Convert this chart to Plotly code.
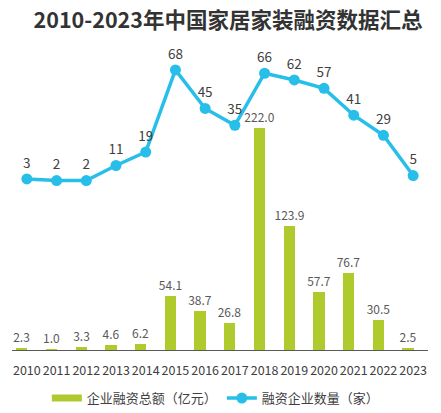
import plotly.graph_objects as go

years = ["2010", "2011", "2012", "2013", "2014", "2015", "2016", "2017",
         "2018", "2019", "2020", "2021", "2022", "2023"]
amount = [2.3, 1.0, 3.3, 4.6, 6.2, 54.1, 38.7, 26.8, 222.0, 123.9, 57.7, 76.7, 30.5, 2.5]
count = [3, 2, 2, 11, 19, 68, 45, 35, 66, 62, 57, 41, 29, 5]

title_text = "2010-2023年中国家居家装融资数据汇总"
bar_name = "企业融资总额（亿元）"
line_name = "融资企业数量（家）"

FONT = "Noto Sans CJK SC"
GREEN = "#afca2d"
BLUE = "#27bfe9"

fig = go.Figure()
fig.add_trace(go.Bar(
    x=years, y=amount, name=bar_name, showlegend=False,
    marker=dict(color=GREEN, line=dict(width=0)),
    width=0.38, offset=-0.36,
    text=[f"{v:.1f}" for v in amount], textposition="outside",
    constraintext="none",
    textfont=dict(family=FONT, size=12, color="#595959"),
    cliponaxis=False,
))
# legend entry for the bars (wide swatch)
fig.add_trace(go.Scatter(
    x=[None], y=[None], name=bar_name, mode="lines",
    line=dict(color=GREEN, width=7),
))
fig.add_trace(go.Scatter(
    x=years, y=count, name=line_name, yaxis="y2",
    mode="lines+markers+text",
    line=dict(color=BLUE, width=3.5),
    marker=dict(color=BLUE, size=11),
    text=[str(v) for v in count], textposition="top center",
    textfont=dict(family=FONT, size=13.5, color="#404040"),
    cliponaxis=False,
))

fig.update_layout(
    width=441, height=413,
    margin=dict(l=12, r=13, t=60, b=63, autoexpand=False),
    paper_bgcolor="white", plot_bgcolor="white",
    font=dict(family=FONT, color="#404040"),
    title=dict(text=f"<b>{title_text}</b>", x=0.517, xanchor="center",
               y=1 - 20 / 413, yanchor="middle",
               font=dict(family=FONT, size=21.5, color="#333333")),
    xaxis=dict(type="category", range=[-0.5, 13.5], showgrid=False,
               showline=True, linecolor="#595959", linewidth=1,
               automargin=False, tickangle=0, ticklabelstandoff=9,
               ticks="", tickfont=dict(family=FONT, size=12.5, color="#404040")),
    yaxis=dict(range=[0, 290], visible=False, showgrid=False, automargin=False),
    yaxis2=dict(range=[-99, 73.9], overlaying="y", visible=False, showgrid=False,
                automargin=False),
    showlegend=True,
    legend=dict(orientation="h", x=0.49, xanchor="center", y=-0.166, yanchor="middle",
                font=dict(family=FONT, size=13, color="#404040"),
                tracegroupgap=0),
    bargap=0,
)
fig.write_html("out.html",
               config={"displayModeBar": False},
               post_script="document.body.style.margin='0';document.body.style.overflow='hidden';")
